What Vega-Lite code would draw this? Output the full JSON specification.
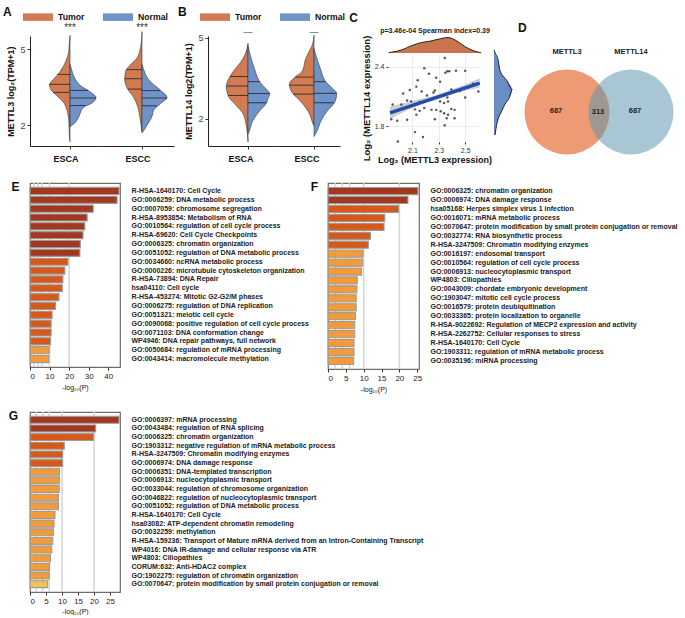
{
"$schema":"https://vega.github.io/schema/vega-lite/v6.json",
"background":"white",
"padding":{"left":3,"top":2,"right":2,"bottom":0},
"config":{
 "font":"Liberation Sans",
 "view":{"stroke":null},
 "title":{"fontSize":12,"fontWeight":"bold","anchor":"start","color":"#111","offset":1},
 "axis":{"labelFontSize":8,"labelColor":"#444","titleColor":"#111","tickColor":"#333","domainColor":"#333"}
},
"spacing":16,
"resolve":{"scale":{"color":"independent"}},
"vconcat":[
{
 "hconcat":[
 {
  "data":{"values":[
   {"k":"d","c":"ESCA","g":"Tumor","v":1.35,"w":0},{"k":"d","c":"ESCA","g":"Tumor","v":1.6,"w":-0.7},{"k":"d","c":"ESCA","g":"Tumor","v":2.0,"w":-1},{"k":"d","c":"ESCA","g":"Tumor","v":2.3,"w":-1.5},{"k":"d","c":"ESCA","g":"Tumor","v":2.6,"w":-3},{"k":"d","c":"ESCA","g":"Tumor","v":2.95,"w":-7.3},{"k":"d","c":"ESCA","g":"Tumor","v":3.2,"w":-14},{"k":"d","c":"ESCA","g":"Tumor","v":3.4,"w":-19},{"k":"d","c":"ESCA","g":"Tumor","v":3.6,"w":-20.5},{"k":"d","c":"ESCA","g":"Tumor","v":3.8,"w":-17},{"k":"d","c":"ESCA","g":"Tumor","v":4.0,"w":-12.3},{"k":"d","c":"ESCA","g":"Tumor","v":4.28,"w":-7.3},{"k":"d","c":"ESCA","g":"Tumor","v":4.55,"w":-4},{"k":"d","c":"ESCA","g":"Tumor","v":4.9,"w":-1.3},{"k":"d","c":"ESCA","g":"Tumor","v":5.2,"w":-0.7},{"k":"d","c":"ESCA","g":"Tumor","v":5.55,"w":0},
   {"k":"d","c":"ESCA","g":"Normal","v":1.95,"w":0},{"k":"d","c":"ESCA","g":"Normal","v":2.0,"w":2},{"k":"d","c":"ESCA","g":"Normal","v":2.25,"w":7.7},{"k":"d","c":"ESCA","g":"Normal","v":2.45,"w":10},{"k":"d","c":"ESCA","g":"Normal","v":2.7,"w":13.3},{"k":"d","c":"ESCA","g":"Normal","v":2.9,"w":22.7},{"k":"d","c":"ESCA","g":"Normal","v":3.1,"w":26},{"k":"d","c":"ESCA","g":"Normal","v":3.3,"w":21},{"k":"d","c":"ESCA","g":"Normal","v":3.55,"w":11},{"k":"d","c":"ESCA","g":"Normal","v":3.9,"w":4.3},{"k":"d","c":"ESCA","g":"Normal","v":4.28,"w":1},{"k":"d","c":"ESCA","g":"Normal","v":4.4,"w":0},
   {"k":"d","c":"ESCC","g":"Tumor","v":1.75,"w":0},{"k":"d","c":"ESCC","g":"Tumor","v":2.2,"w":-1.7},{"k":"d","c":"ESCC","g":"Tumor","v":2.7,"w":-4},{"k":"d","c":"ESCC","g":"Tumor","v":3.1,"w":-8.3},{"k":"d","c":"ESCC","g":"Tumor","v":3.43,"w":-14.3},{"k":"d","c":"ESCC","g":"Tumor","v":3.84,"w":-17.3},{"k":"d","c":"ESCC","g":"Tumor","v":4.0,"w":-17},{"k":"d","c":"ESCC","g":"Tumor","v":4.2,"w":-15.7},{"k":"d","c":"ESCC","g":"Tumor","v":4.45,"w":-10},{"k":"d","c":"ESCC","g":"Tumor","v":4.7,"w":-4.3},{"k":"d","c":"ESCC","g":"Tumor","v":5.2,"w":-1},{"k":"d","c":"ESCC","g":"Tumor","v":5.7,"w":0},
   {"k":"d","c":"ESCC","g":"Normal","v":1.7,"w":0},{"k":"d","c":"ESCC","g":"Normal","v":1.75,"w":1},{"k":"d","c":"ESCC","g":"Normal","v":2.0,"w":5},{"k":"d","c":"ESCC","g":"Normal","v":2.35,"w":10},{"k":"d","c":"ESCC","g":"Normal","v":2.6,"w":11.7},{"k":"d","c":"ESCC","g":"Normal","v":2.85,"w":18.3},{"k":"d","c":"ESCC","g":"Normal","v":3.1,"w":25},{"k":"d","c":"ESCC","g":"Normal","v":3.39,"w":18.3},{"k":"d","c":"ESCC","g":"Normal","v":3.75,"w":7.7},{"k":"d","c":"ESCC","g":"Normal","v":4.2,"w":1.7},{"k":"d","c":"ESCC","g":"Normal","v":4.4,"w":0},
   {"k":"q","c":"ESCA","g":"Tumor","v":4.01,"w":-12.3},{"k":"q","c":"ESCA","g":"Tumor","v":3.62,"w":-20.5},{"k":"q","c":"ESCA","g":"Tumor","v":3.3,"w":-17},
   {"k":"q","c":"ESCA","g":"Normal","v":3.38,"w":18},{"k":"q","c":"ESCA","g":"Normal","v":3.08,"w":26},{"k":"q","c":"ESCA","g":"Normal","v":2.78,"w":15.5},
   {"k":"q","c":"ESCC","g":"Tumor","v":4.2,"w":-15.7},{"k":"q","c":"ESCC","g":"Tumor","v":3.84,"w":-17.3},{"k":"q","c":"ESCC","g":"Tumor","v":3.43,"w":-14.3},
   {"k":"q","c":"ESCC","g":"Normal","v":3.37,"w":18},{"k":"q","c":"ESCC","g":"Normal","v":3.08,"w":25},{"k":"q","c":"ESCC","g":"Normal","v":2.77,"w":15},
   {"k":"s","c":"ESCA","label":"***","v":5.85},{"k":"s","c":"ESCC","label":"***","v":5.85}
  ]},
  "facet":{"column":{"field":"c","type":"nominal","sort":["ESCA","ESCC"],"header":{"title":null,"labelOrient":"bottom","labelFontSize":9,"labelFontWeight":"bold","labelPadding":5,"labelColor":"#111"}}},
  "spacing":0,
  "spec":{"width":72,"height":110,"layer":[
   {"transform":[{"filter":"datum.k==='d'"}],
    "mark":{"type":"area","orient":"horizontal","interpolate":"monotone","stroke":"#333","strokeWidth":0.6},
    "encoding":{
     "y":{"field":"v","type":"quantitative","scale":{"domain":[1.18,5.53],"nice":false,"zero":false},"axis":{"values":[2,3,4,5],"title":"METTL3  log₂(TPM+1)","titleFontSize":9,"titleFontWeight":"bold","labelFontSize":9,"tickSize":3,"grid":false,"domainColor":"#222","titlePadding":4}},
     "x":{"field":"w","type":"quantitative","stack":null,"scale":{"domain":[-40,32],"nice":false},"axis":{"values":[0],"labels":false,"title":null,"tickSize":3,"grid":false,"domainColor":"#222"}},
     "color":{"field":"g","type":"nominal","scale":{"domain":["Tumor","Normal"],"range":["#D27B52","#6F93C8"]},"legend":{"orient":"none","legendX":-27,"legendY":-34,"title":"A","titleOrient":"left","titleFontSize":12,"titleFontWeight":"bold","titleColor":"#111","titlePadding":11,"direction":"horizontal","symbolType":"M-1,-0.25L1,-0.25L1,0.25L-1,0.25Z","symbolSize":900,"symbolStrokeWidth":0,"symbolOpacity":1,"labelFontSize":8.7,"labelFontWeight":"bold","labelColor":"#111","columnPadding":18,"labelOffset":5}}
    }},
   {"transform":[{"filter":"datum.k==='q'"}],
    "mark":{"type":"rule","color":"#222","strokeWidth":0.8},
    "encoding":{"y":{"field":"v","type":"quantitative"},"x":{"field":"w","type":"quantitative"},"x2":{"datum":0}}},
   {"transform":[{"filter":"datum.k==='s'"}],
    "mark":{"type":"text","fontSize":10,"color":"#333","baseline":"middle"},
    "encoding":{"y":{"field":"v","type":"quantitative"},"x":{"datum":0,"type":"quantitative"},"text":{"field":"label","type":"nominal"}}}
  ]}
 },
 {
  "data":{"values":[
   {"k":"d","c":"ESCA","g":"Tumor","v":1.15,"w":0},{"k":"d","c":"ESCA","g":"Tumor","v":1.75,"w":-1.7},{"k":"d","c":"ESCA","g":"Tumor","v":2.2,"w":-5},{"k":"d","c":"ESCA","g":"Tumor","v":2.5,"w":-11.7},{"k":"d","c":"ESCA","g":"Tumor","v":2.82,"w":-19.3},{"k":"d","c":"ESCA","g":"Tumor","v":3.2,"w":-21.7},{"k":"d","c":"ESCA","g":"Tumor","v":3.57,"w":-18},{"k":"d","c":"ESCA","g":"Tumor","v":3.83,"w":-13.3},{"k":"d","c":"ESCA","g":"Tumor","v":4.1,"w":-7.3},{"k":"d","c":"ESCA","g":"Tumor","v":4.4,"w":-2.7},{"k":"d","c":"ESCA","g":"Tumor","v":4.8,"w":0},
   {"k":"d","c":"ESCA","g":"Normal","v":1.45,"w":0},{"k":"d","c":"ESCA","g":"Normal","v":1.5,"w":0.7},{"k":"d","c":"ESCA","g":"Normal","v":1.95,"w":5},{"k":"d","c":"ESCA","g":"Normal","v":2.3,"w":11.7},{"k":"d","c":"ESCA","g":"Normal","v":2.58,"w":18.3},{"k":"d","c":"ESCA","g":"Normal","v":2.75,"w":20},{"k":"d","c":"ESCA","g":"Normal","v":2.94,"w":21.7},{"k":"d","c":"ESCA","g":"Normal","v":3.1,"w":18.3},{"k":"d","c":"ESCA","g":"Normal","v":3.38,"w":11.7},{"k":"d","c":"ESCA","g":"Normal","v":3.83,"w":6.7},{"k":"d","c":"ESCA","g":"Normal","v":4.3,"w":2.7},{"k":"d","c":"ESCA","g":"Normal","v":4.7,"w":0},
   {"k":"d","c":"ESCC","g":"Tumor","v":1.75,"w":0},{"k":"d","c":"ESCC","g":"Tumor","v":1.8,"w":-0.7},{"k":"d","c":"ESCC","g":"Tumor","v":2.23,"w":-5},{"k":"d","c":"ESCC","g":"Tumor","v":2.65,"w":-13.3},{"k":"d","c":"ESCC","g":"Tumor","v":2.97,"w":-21.7},{"k":"d","c":"ESCC","g":"Tumor","v":3.28,"w":-24.7},{"k":"d","c":"ESCC","g":"Tumor","v":3.57,"w":-18.3},{"k":"d","c":"ESCC","g":"Tumor","v":3.73,"w":-12.5},{"k":"d","c":"ESCC","g":"Tumor","v":3.96,"w":-10},{"k":"d","c":"ESCC","g":"Tumor","v":4.15,"w":-9},{"k":"d","c":"ESCC","g":"Tumor","v":4.38,"w":-6.5},{"k":"d","c":"ESCC","g":"Tumor","v":4.74,"w":-1.7},{"k":"d","c":"ESCC","g":"Tumor","v":5.1,"w":0},
   {"k":"d","c":"ESCC","g":"Normal","v":1.35,"w":0},{"k":"d","c":"ESCC","g":"Normal","v":1.45,"w":1.7},{"k":"d","c":"ESCC","g":"Normal","v":1.95,"w":7.3},{"k":"d","c":"ESCC","g":"Normal","v":2.3,"w":13.3},{"k":"d","c":"ESCC","g":"Normal","v":2.58,"w":20},{"k":"d","c":"ESCC","g":"Normal","v":2.7,"w":21.7},{"k":"d","c":"ESCC","g":"Normal","v":2.94,"w":22.7},{"k":"d","c":"ESCC","g":"Normal","v":3.14,"w":18.3},{"k":"d","c":"ESCC","g":"Normal","v":3.38,"w":11.7},{"k":"d","c":"ESCC","g":"Normal","v":3.83,"w":6.7},{"k":"d","c":"ESCC","g":"Normal","v":4.38,"w":1.7},{"k":"d","c":"ESCC","g":"Normal","v":4.6,"w":0},
   {"k":"q","c":"ESCA","g":"Tumor","v":3.57,"w":-18},{"k":"q","c":"ESCA","g":"Tumor","v":3.22,"w":-21.7},{"k":"q","c":"ESCA","g":"Tumor","v":2.87,"w":-19.8},
   {"k":"q","c":"ESCA","g":"Normal","v":3.38,"w":11.7},{"k":"q","c":"ESCA","g":"Normal","v":2.94,"w":21.7},{"k":"q","c":"ESCA","g":"Normal","v":2.6,"w":18.3},
   {"k":"q","c":"ESCC","g":"Tumor","v":3.55,"w":-18.5},{"k":"q","c":"ESCC","g":"Tumor","v":3.25,"w":-24.7},{"k":"q","c":"ESCC","g":"Tumor","v":2.92,"w":-21},
   {"k":"q","c":"ESCC","g":"Normal","v":3.38,"w":11.7},{"k":"q","c":"ESCC","g":"Normal","v":2.95,"w":22.7},{"k":"q","c":"ESCC","g":"Normal","v":2.6,"w":20},
   {"k":"s","c":"ESCA","label":"—","v":5.22},{"k":"s","c":"ESCC","label":"—","v":5.22}
  ]},
  "facet":{"column":{"field":"c","type":"nominal","sort":["ESCA","ESCC"],"header":{"title":null,"labelOrient":"bottom","labelFontSize":9,"labelFontWeight":"bold","labelPadding":5,"labelColor":"#111"}}},
  "spacing":0,
  "spec":{"width":66,"height":110,"layer":[
   {"transform":[{"filter":"datum.k==='d'"}],
    "mark":{"type":"area","orient":"horizontal","interpolate":"monotone","stroke":"#333","strokeWidth":0.6},
    "encoding":{
     "y":{"field":"v","type":"quantitative","scale":{"domain":[1.0,5.07],"nice":false,"zero":false},"axis":{"values":[2,3,4,5],"title":"METTL14  log2(TPM+1)","titleFontSize":9,"titleFontWeight":"bold","labelFontSize":9,"tickSize":3,"grid":false,"domainColor":"#222","titlePadding":4}},
     "x":{"field":"w","type":"quantitative","stack":null,"scale":{"domain":[-40,26],"nice":false},"axis":{"values":[0],"labels":false,"title":null,"tickSize":3,"grid":false,"domainColor":"#222"}},
     "color":{"field":"g","type":"nominal","scale":{"domain":["Tumor","Normal"],"range":["#D27B52","#6F93C8"]},"legend":{"orient":"none","legendX":-30,"legendY":-34,"title":"B","titleOrient":"left","titleFontSize":12,"titleFontWeight":"bold","titleColor":"#111","titlePadding":13,"direction":"horizontal","symbolType":"M-1,-0.25L1,-0.25L1,0.25L-1,0.25Z","symbolSize":900,"symbolStrokeWidth":0,"symbolOpacity":1,"labelFontSize":8.7,"labelFontWeight":"bold","labelColor":"#111","columnPadding":18,"labelOffset":5}}
    }},
   {"transform":[{"filter":"datum.k==='q'"}],
    "mark":{"type":"rule","color":"#222","strokeWidth":0.8},
    "encoding":{"y":{"field":"v","type":"quantitative"},"x":{"field":"w","type":"quantitative"},"x2":{"datum":0}}},
   {"transform":[{"filter":"datum.k==='s'"}],
    "mark":{"type":"text","fontSize":9,"color":"#333","baseline":"middle"},
    "encoding":{"y":{"field":"v","type":"quantitative"},"x":{"datum":0,"type":"quantitative"},"text":{"field":"label","type":"nominal"}}}
  ]}
 },
 {
  "title":{"text":"C","dx":-12},
  "spacing":-10.5,
  "hconcat":[
   {"vconcat":[
     {"width":93,"height":17,
      "data":{"values":[{"x":1.92,"d":0.02},{"x":1.94,"d":0.05},{"x":2.016,"d":0.19},{"x":2.09,"d":0.46},{"x":2.17,"d":0.68},{"x":2.23,"d":0.76},{"x":2.295,"d":0.89},{"x":2.37,"d":1.0},{"x":2.43,"d":0.81},{"x":2.5,"d":0.41},{"x":2.55,"d":0.19},{"x":2.6,"d":0.05},{"x":2.62,"d":0.02}]},
      "encoding":{"x":{"field":"x","type":"quantitative","scale":{"domain":[1.915,2.62],"nice":false,"zero":false},"axis":{"orient":"top","labels":false,"ticks":false,"domain":false,"grid":false,"title":"p=3.46e-04     Spearman index=0.39","titleFontSize":7,"titleFontWeight":"bold","titleColor":"#222","titlePadding":3}},"y":{"field":"d","type":"quantitative","scale":{"domain":[0,1.1],"nice":false},"axis":{"values":[0.5],"labelExpr":"'2.4'","labelFontSize":7,"labelColor":"transparent","tickSize":2,"tickColor":"transparent","domain":false,"grid":false,"title":"L","titleFontSize":9.5,"titleFontWeight":"bold","titlePadding":3,"titleColor":"transparent"}}},
      "layer":[
       {"mark":{"type":"area","interpolate":"monotone","color":"#C8744C","opacity":1}},
       {"mark":{"type":"line","interpolate":"monotone","color":"#111","strokeWidth":0.9}}
      ]},
     {"width":93,"height":88,
      "layer":[
       {"data":{"values":[{"x":1.93,"lo":1.87,"hi":2.0},{"x":2.1,"lo":1.985,"hi":2.055},{"x":2.3,"lo":2.078,"hi":2.122},{"x":2.45,"lo":2.14,"hi":2.195},{"x":2.61,"lo":2.19,"hi":2.285}]},
        "mark":{"type":"area","interpolate":"monotone","color":"#BDBDBD","opacity":0.75},
        "encoding":{
         "x":{"field":"x","type":"quantitative","scale":{"domain":[1.915,2.62],"nice":false,"zero":false},"axis":{"values":[2.1,2.3,2.5],"format":".1f","title":"Log₂ (METTL3 expression)","titleFontSize":9,"titleFontWeight":"bold","titlePadding":2,"labelFontSize":7,"labelColor":"#333","tickSize":2,"domain":false,"grid":true,"gridColor":"#EBEBEB"}},
         "y":{"field":"lo","type":"quantitative","scale":{"domain":[1.64,2.53],"nice":false,"zero":false},"axis":{"values":[1.8,2.0,2.2,2.4],"format":".1f","title":"Log₂ (METTL14 expression)","titleFontSize":9.5,"titleFontWeight":"bold","titlePadding":3,"labelFontSize":7,"labelColor":"#333","tickSize":2,"domain":false,"grid":true,"gridColor":"#EBEBEB"}},
         "y2":{"field":"hi"}}},
       {"data":{"values":[{"x":2.346,"y":2.49},{"x":2.19,"y":2.385},{"x":2.35,"y":2.34},{"x":2.365,"y":2.355},{"x":2.38,"y":2.355},{"x":2.43,"y":2.36},{"x":2.5,"y":2.36},{"x":2.226,"y":2.33},{"x":2.28,"y":2.29},{"x":2.14,"y":2.265},{"x":2.31,"y":2.25},{"x":2.03,"y":2.13},{"x":2.08,"y":2.165},{"x":2.13,"y":2.2},{"x":2.17,"y":2.15},{"x":2.26,"y":2.14},{"x":2.27,"y":2.16},{"x":2.21,"y":2.11},{"x":2.395,"y":2.17},{"x":2.46,"y":2.155},{"x":2.52,"y":2.19},{"x":2.56,"y":2.23},{"x":2.6,"y":2.15},{"x":2.5,"y":2.09},{"x":2.365,"y":2.09},{"x":2.016,"y":2.02},{"x":1.95,"y":2.02},{"x":2.06,"y":2.06},{"x":2.09,"y":2.05},{"x":2.155,"y":2.045},{"x":2.31,"y":2.05},{"x":2.34,"y":2.035},{"x":2.37,"y":2.05},{"x":2.12,"y":1.97},{"x":2.155,"y":1.955},{"x":2.19,"y":1.985},{"x":2.245,"y":1.965},{"x":2.28,"y":1.965},{"x":2.315,"y":1.95},{"x":2.34,"y":1.93},{"x":2.37,"y":1.915},{"x":2.395,"y":1.975},{"x":2.42,"y":1.965},{"x":2.13,"y":1.915},{"x":2.06,"y":1.865},{"x":1.985,"y":1.855},{"x":1.94,"y":1.87},{"x":2.36,"y":1.88},{"x":2.42,"y":1.88},{"x":2.27,"y":1.87},{"x":2.345,"y":1.81},{"x":2.12,"y":1.74},{"x":2.18,"y":1.69},{"x":1.99,"y":1.645}]},
        "mark":{"type":"circle","size":6,"color":"#444","opacity":0.9},
        "encoding":{"x":{"field":"x","type":"quantitative"},"y":{"field":"y","type":"quantitative"}}},
       {"data":{"values":[{"x":1.93,"y":1.935},{"x":2.61,"y":2.235}]},
        "mark":{"type":"line","color":"#1F4DB0","strokeWidth":3.5},
        "encoding":{"x":{"field":"x","type":"quantitative"},"y":{"field":"y","type":"quantitative"}}}
      ]}
    ],"spacing":1,"bounds":"flush"},
   {"width":20,"height":106,
    "data":{"values":[{"y":2.5,"d":0},{"y":2.48,"d":0.04},{"y":2.395,"d":0.23},{"y":2.29,"d":0.33},{"y":2.19,"d":0.71},{"y":2.1,"d":1.0},{"y":2.02,"d":0.85},{"y":1.95,"d":0.6},{"y":1.88,"d":0.42},{"y":1.78,"d":0.19},{"y":1.67,"d":0.08},{"y":1.64,"d":0.06}]},
    "encoding":{"y":{"field":"y","type":"quantitative","scale":{"domain":[1.569,2.641],"nice":false,"zero":false},"axis":null},"x":{"field":"d","type":"quantitative","scale":{"domain":[0,1.1],"nice":false},"axis":{"orient":"top","labels":false,"ticks":false,"domain":false,"grid":false,"title":"p","titleFontSize":7,"titleFontWeight":"bold","titleColor":"transparent","titlePadding":3}}},
    "layer":[
     {"mark":{"type":"area","orient":"horizontal","interpolate":"monotone","color":"#6A8EC4","opacity":1}},
     {"mark":{"type":"line","orient":"horizontal","interpolate":"monotone","color":"#111","strokeWidth":0.9},"encoding":{"order":{"field":"y","type":"quantitative"}}}
    ]}
  ]
 },
 {
  "title":{"text":"D"},
  "width":165,"height":110,
  "data":{"values":[
   {"k":"c1","x":0,"y":0},
   {"k":"c2","x":64,"y":0},
   {"k":"n","x":0,"y":60,"label":"METTL3"},
   {"k":"n","x":64,"y":60,"label":"METTL14"},
   {"k":"n","x":-11,"y":1,"label":"687"},
   {"k":"n","x":31,"y":0,"label":"313"},
   {"k":"n","x":68,"y":1,"label":"687"}
  ]},
  "encoding":{
   "x":{"field":"x","type":"quantitative","scale":{"domain":[-49,116],"nice":false,"zero":false},"axis":null},
   "y":{"field":"y","type":"quantitative","scale":{"domain":[-34,76],"nice":false,"zero":false},"axis":null}
  },
  "layer":[
   {"transform":[{"filter":"datum.k==='c1'"}],"mark":{"type":"point","shape":"circle","filled":true,"size":7238,"color":"#EE9B75","opacity":1}},
   {"transform":[{"filter":"datum.k==='c2'"}],"mark":{"type":"point","shape":"circle","filled":true,"size":7238,"color":"#5A93AD","opacity":0.53}},
   {"transform":[{"filter":"datum.k==='n'"}],"mark":{"type":"text","fontSize":7.5,"fontWeight":"bold","color":"#222"},"encoding":{"text":{"field":"label","type":"nominal"}}}
  ]
 }
 ],
 "spacing":4,
 "resolve":{"scale":{"color":"independent"},"legend":{"color":"independent"}}
},
{
 "hconcat":[
 {
  "title":{"text":"E","orient":"left","anchor":"end","angle":0,"baseline":"top","offset":2},
  "width":90,"height":184,
  "view":{"stroke":"#6E6E6E","strokeWidth":1.2},
  "data":{"values":[
   {"t":"R-HSA-1640170: Cell Cycle","p":45.5},
   {"t":"GO:0006259: DNA metabolic process","p":44.5},
   {"t":"GO:0007059: chromosome segregation","p":32.3},
   {"t":"R-HSA-8953854: Metabolism of RNA","p":29.2},
   {"t":"GO:0010564: regulation of cell cycle process","p":28.0},
   {"t":"R-HSA-69620: Cell Cycle Checkpoints","p":27.1},
   {"t":"GO:0006325: chromatin organization","p":25.7},
   {"t":"GO:0051052: regulation of DNA metabolic process","p":25.5},
   {"t":"GO:0034660: ncRNA metabolic process","p":19.4},
   {"t":"GO:0000226: microtubule cytoskeleton organization","p":17.8},
   {"t":"R-HSA-73894: DNA Repair","p":16.8},
   {"t":"hsa04110: Cell cycle","p":16.5},
   {"t":"R-HSA-453274: Mitotic G2-G2/M phases","p":14.8},
   {"t":"GO:0006275: regulation of DNA replication","p":13.0},
   {"t":"GO:0051321: meiotic cell cycle","p":11.3},
   {"t":"GO:0090068: positive regulation of cell cycle process","p":10.8},
   {"t":"GO:0071103: DNA conformation change","p":10.8},
   {"t":"WP4946: DNA repair pathways, full network","p":10.5},
   {"t":"GO:0050684: regulation of mRNA processing","p":9.8},
   {"t":"GO:0043414: macromolecule methylation","p":9.6}
  ]},
  "encoding":{"x":{"field":"p","type":"quantitative","scale":{"domain":[0,46],"nice":false},"axis":{"values":[0,10,20,30,40],"title":"-log₁₀(P)","titleFontSize":7,"titleFontWeight":"normal","titlePadding":3,"labelFontSize":8,"labelColor":"#222","tickSize":3,"domain":false,"grid":false}}},
  "layer":[
   {"data":{"values":[{"p":2},{"p":4},{"p":6},{"p":10},{"p":20}]},"mark":{"type":"rule","color":"#D4D4D4","strokeWidth":1.5}},
   {"mark":{"type":"bar","stroke":"#9B9B9B","strokeWidth":1.1},
    "encoding":{
     "y":{"field":"t","type":"nominal","sort":null,"scale":{"paddingInner":0.2,"paddingOuter":0.5},"axis":{"orient":"right","title":null,"domain":false,"ticks":false,"labelFontSize":7,"labelFontWeight":"bold","labelColor":"#222","labelPadding":11,"labelLimit":600}},
     "color":{"field":"p","type":"quantitative","scale":{"type":"threshold","domain":[6,10,20],"range":["#F4C254","#F29B38","#D6591B","#A1381F"]},"legend":null}}}
  ]
 },
 {
  "title":{"text":"F","orient":"left","anchor":"end","angle":0,"baseline":"top","offset":2},
  "width":91,"height":186,
  "view":{"stroke":"#6E6E6E","strokeWidth":1.2},
  "data":{"values":[
   {"t":"GO:0006325: chromatin organization","p":25.2},
   {"t":"GO:0006974: DNA damage response","p":22.4},
   {"t":"hsa05168: Herpes simplex virus 1 infection","p":19.8},
   {"t":"GO:0016071: mRNA metabolic process","p":15.9},
   {"t":"GO:0070647: protein modification by small protein conjugation or removal","p":15.7},
   {"t":"GO:0032774: RNA biosynthetic process","p":11.9},
   {"t":"R-HSA-3247509: Chromatin modifying enzymes","p":11.3},
   {"t":"GO:0016197: endosomal transport","p":9.8},
   {"t":"GO:0010564: regulation of cell cycle process","p":9.7},
   {"t":"GO:0006913: nucleocytoplasmic transport","p":9.4},
   {"t":"WP4803: Ciliopathies","p":8.2},
   {"t":"GO:0043009: chordate embryonic development","p":8.1},
   {"t":"GO:1903047: mitotic cell cycle process","p":7.9},
   {"t":"GO:0016579: protein deubiquitination","p":7.9},
   {"t":"GO:0033365: protein localization to organelle","p":7.7},
   {"t":"R-HSA-9022692: Regulation of MECP2 expression and activity","p":7.5},
   {"t":"R-HSA-2262752: Cellular responses to stress","p":7.5},
   {"t":"R-HSA-1640170: Cell Cycle","p":7.3},
   {"t":"GO:1903311: regulation of mRNA metabolic process","p":7.3},
   {"t":"GO:0035196: miRNA processing","p":7.2}
  ]},
  "encoding":{"x":{"field":"p","type":"quantitative","scale":{"domain":[0,25.5],"nice":false},"axis":{"values":[0,5,10,15,20,25],"title":"-log₁₀(P)","titleFontSize":7,"titleFontWeight":"normal","titlePadding":3,"labelFontSize":8,"labelColor":"#222","tickSize":3,"domain":false,"grid":false}}},
  "layer":[
   {"data":{"values":[{"p":2},{"p":4},{"p":6},{"p":10},{"p":20}]},"mark":{"type":"rule","color":"#D4D4D4","strokeWidth":1.5}},
   {"mark":{"type":"bar","stroke":"#9B9B9B","strokeWidth":1.1},
    "encoding":{
     "y":{"field":"t","type":"nominal","sort":null,"scale":{"paddingInner":0.2,"paddingOuter":0.5},"axis":{"orient":"right","title":null,"domain":false,"ticks":false,"labelFontSize":7,"labelFontWeight":"bold","labelColor":"#222","labelPadding":11,"labelLimit":600}},
     "color":{"field":"p","type":"quantitative","scale":{"type":"threshold","domain":[6,10,20],"range":["#F4C254","#F29B38","#D6591B","#A1381F"]},"legend":null}}}
  ]
 }
 ],
 "spacing":0,
 "resolve":{"scale":{"color":"independent"}}
},
{
  "title":{"text":"G","orient":"left","anchor":"end","angle":0,"baseline":"top","offset":2},
  "width":90,"height":180,
  "view":{"stroke":"#6E6E6E","strokeWidth":1.2},
  "data":{"values":[
   {"t":"GO:0006397: mRNA processing","p":27.8},
   {"t":"GO:0043484: regulation of RNA splicing","p":20.5},
   {"t":"GO:0006325: chromatin organization","p":19.8},
   {"t":"GO:1903312: negative regulation of mRNA metabolic process","p":10.7},
   {"t":"R-HSA-3247509: Chromatin modifying enzymes","p":10.2},
   {"t":"GO:0006974: DNA damage response","p":10.2},
   {"t":"GO:0006351: DNA-templated transcription","p":9.2},
   {"t":"GO:0006913: nucleocytoplasmic transport","p":9.2},
   {"t":"GO:0033044: regulation of chromosome organization","p":9.1},
   {"t":"GO:0046822: regulation of nucleocytoplasmic transport","p":8.9},
   {"t":"GO:0051052: regulation of DNA metabolic process","p":8.9},
   {"t":"R-HSA-1640170: Cell Cycle","p":7.8},
   {"t":"hsa03082: ATP-dependent chromatin remodeling","p":7.5},
   {"t":"GO:0032259: methylation","p":7.3},
   {"t":"R-HSA-159236: Transport of Mature mRNA derived from an Intron-Containing Transcript","p":7.1},
   {"t":"WP4016: DNA IR-damage and cellular response via ATR","p":6.8},
   {"t":"WP4803: Ciliopathies","p":6.4},
   {"t":"CORUM:632: Anti-HDAC2 complex","p":6.1},
   {"t":"GO:1902275: regulation of chromatin organization","p":6.0},
   {"t":"GO:0070647: protein modification by small protein conjugation or removal","p":5.5}
  ]},
  "encoding":{"x":{"field":"p","type":"quantitative","scale":{"domain":[0,28.1],"nice":false},"axis":{"values":[0,5,10,15,20,25],"title":"-log₁₀(P)","titleFontSize":7,"titleFontWeight":"normal","titlePadding":2,"labelFontSize":8,"labelColor":"#222","tickSize":3,"domain":false,"grid":false}}},
  "layer":[
   {"data":{"values":[{"p":2},{"p":4},{"p":6},{"p":10},{"p":20}]},"mark":{"type":"rule","color":"#D4D4D4","strokeWidth":1.5}},
   {"mark":{"type":"bar","stroke":"#9B9B9B","strokeWidth":1.1},
    "encoding":{
     "y":{"field":"t","type":"nominal","sort":null,"scale":{"paddingInner":0.2,"paddingOuter":0.5},"axis":{"orient":"right","title":null,"domain":false,"ticks":false,"labelFontSize":7,"labelFontWeight":"bold","labelColor":"#222","labelPadding":11,"labelLimit":600}},
     "color":{"field":"p","type":"quantitative","scale":{"type":"threshold","domain":[6,10,20],"range":["#F4C254","#F29B38","#D6591B","#A1381F"]},"legend":null}}}
  ]
}
]
}
